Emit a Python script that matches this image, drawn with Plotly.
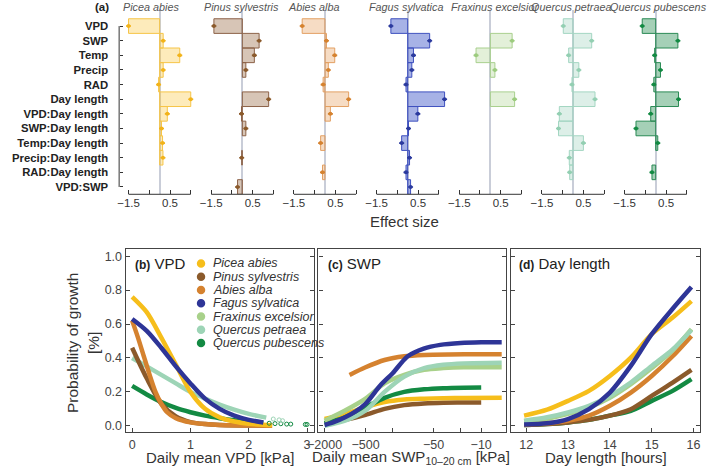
import plotly.graph_objects as go

W, H = 709, 476

# ---------------- data ----------------
species = ["Picea abies", "Pinus sylvestris", "Abies alba", "Fagus sylvatica",
           "Fraxinus excelsior", "Quercus petraea", "Quercus pubescens"]
predictors = ["VPD", "SWP", "Temp", "Precip", "RAD", "Day length", "VPD:Day length",
              "SWP:Day length", "Temp:Day length", "Precip:Day length", "RAD:Day length", "VPD:SWP"]

eff_picea = [-1.5, 0.17, 0.97, 0.17, -0.05, 1.5, 0.37, 0.09, 0.14, 0.16, None, None]
eff_pinus = [-1.37, 0.81, 0.58, 0.17, None, 1.27, -0.04, 0.17, None, -0.03, None, -0.23]
eff_abies = [-1.1, 0.07, 0.47, 0.16, -0.09, 1.14, 0.26, None, -0.21, None, -0.12, None]
eff_fagus = [-0.81, 1.06, 0.28, 0.2, -0.08, 1.78, 0.49, 0.04, -0.29, 0.09, -0.08, 0.14]
eff_fraxinus = [None, 1.05, -0.69, 0.22, None, 1.17, None, None, None, None, None, None]
eff_qpetraea = [-0.47, 0.9, -0.21, 0.28, -0.05, 1.06, -0.66, -0.7, 0.5, -0.18, -0.16, None]
eff_qpubescens = [-0.65, 1.07, -0.05, 0.23, -0.09, 1.1, -0.24, -0.95, 0.1, None, -0.18, None]
effect_lists = [eff_picea, eff_pinus, eff_abies, eff_fagus, eff_fraxinus, eff_qpetraea, eff_qpubescens]

effect_ticks = [-1.5, -0.5, 0.5, 1.5]
effect_ticktext = ["\u22121.5", " ", "0.5", " "]

# (b) VPD
vpd_picea_x = [0, 0.25, 0.5, 0.75, 1.0, 1.25, 1.5, 1.75, 2.0, 2.25, 2.4]
vpd_picea_y = [0.76, 0.67, 0.52, 0.36, 0.2, 0.1, 0.05, 0.025, 0.012, 0.006, 0.004]
vpd_pinus_x = [0, 0.25, 0.5, 0.75, 1.0, 1.25, 1.5, 2.0, 2.4]
vpd_pinus_y = [0.46, 0.28, 0.13, 0.055, 0.022, 0.01, 0.005, 0.002, 0.001]
vpd_abies_x = [0, 0.1, 0.2, 0.3, 0.4, 0.5, 0.6, 0.75, 1.0, 1.25, 1.5, 2.0, 2.4]
vpd_abies_y = [0.62, 0.52, 0.41, 0.3, 0.2, 0.13, 0.08, 0.045, 0.02, 0.01, 0.005, 0.002, 0.001]
vpd_fagus_x = [0, 0.25, 0.5, 0.75, 1.0, 1.25, 1.5, 1.75, 2.0, 2.25]
vpd_fagus_y = [0.63, 0.56, 0.46, 0.35, 0.25, 0.16, 0.1, 0.06, 0.035, 0.02]
vpd_qpet_x = [0, 0.25, 0.5, 0.75, 1.0, 1.25, 1.5, 1.75, 2.0, 2.3]
vpd_qpet_y = [0.40, 0.35, 0.30, 0.25, 0.20, 0.16, 0.125, 0.095, 0.07, 0.048]
vpd_qpub_x = [0, 0.25, 0.5, 0.75, 1.0, 1.25, 1.5, 1.75, 2.0, 2.25]
vpd_qpub_y = [0.235, 0.185, 0.14, 0.105, 0.08, 0.06, 0.045, 0.033, 0.025, 0.018]
vpd_qpub_tail_x = [2.35, 2.45, 2.55, 2.65, 2.72, 2.97, 3.0]
vpd_qpub_tail_y = [0.015, 0.013, 0.012, 0.01, 0.01, 0.008, 0.008]
vpd_qpet_tail_x = [2.42, 2.52, 2.58]
vpd_qpet_tail_y = [0.04, 0.035, 0.03]

# (c) SWP [kPa]
swp_picea_x = [-2000, -1000, -500, -263, -135, -69, -36, -18, -5]
swp_picea_y = [0.04, 0.07, 0.11, 0.14, 0.155, 0.16, 0.163, 0.164, 0.165]
swp_pinus_x = [-2000, -1000, -500, -263, -135, -69, -36, -18, -10]
swp_pinus_y = [0.015, 0.035, 0.065, 0.1, 0.122, 0.132, 0.136, 0.137, 0.138]
swp_abies_x = [-860, -500, -263, -135, -69, -30, -10, -5]
swp_abies_y = [0.30, 0.345, 0.388, 0.41, 0.418, 0.421, 0.422, 0.422]
swp_fagus_x = [-2000, -1500, -1000, -700, -500, -300, -200, -120, -70, -40, -20, -10, -5]
swp_fagus_y = [0.005, 0.02, 0.05, 0.085, 0.13, 0.24, 0.31, 0.41, 0.455, 0.477, 0.488, 0.492, 0.493]
swp_fraxinus_x = [-2000, -1000, -500, -263, -135, -69, -36, -18, -5]
swp_fraxinus_y = [0.03, 0.09, 0.16, 0.25, 0.3, 0.33, 0.34, 0.345, 0.345]
swp_qpet_x = [-2000, -1000, -500, -263, -135, -69, -36, -18, -5]
swp_qpet_y = [0.0, 0.03, 0.09, 0.2, 0.29, 0.34, 0.36, 0.368, 0.372]
swp_qpub_x = [-2000, -1000, -500, -263, -135, -69, -36, -18, -10]
swp_qpub_y = [0.015, 0.05, 0.11, 0.165, 0.2, 0.215, 0.222, 0.225, 0.226]

# (d) Day length [hours]
dl_x = [11.95, 12.5, 13, 13.5, 14, 14.5, 15, 15.5, 15.95]
dl_picea_y = [0.06, 0.095, 0.147, 0.206, 0.294, 0.402, 0.54, 0.638, 0.735]
dl_pinus_y = [0.004, 0.01, 0.02, 0.035, 0.06, 0.098, 0.176, 0.255, 0.33]
dl_abies_y = [0.008, 0.015, 0.03, 0.06, 0.118, 0.196, 0.294, 0.41, 0.53]
dl_fagus_y = [0.008, 0.015, 0.04, 0.098, 0.196, 0.353, 0.54, 0.69, 0.818]
dl_fraxinus_y = [0.025, 0.042, 0.07, 0.108, 0.165, 0.245, 0.34, 0.445, 0.57]
dl_qpet_y = [0.03, 0.05, 0.079, 0.118, 0.176, 0.255, 0.353, 0.45, 0.565]
dl_qpub_y = [0.004, 0.01, 0.02, 0.035, 0.06, 0.088, 0.147, 0.206, 0.275]

prob_ticks = [0, 0.2, 0.4, 0.6, 0.8, 1.0]
vpd_ticks = [0, 1, 2, 3]
swp_ticks = [2000, 500, 200, 50, 20, 10]
swp_ticktext = ["\u22122000", "\u2212500", " ", "\u221250", " ", "\u221210"]
dl_ticks = [12, 13, 14, 15, 16]

# ---------------- styles ----------------
main_col = ["#F6BE1B", "#8B5A2B", "#D5822F", "#2E3597", "#A8D18A", "#9DD4B6", "#138A43"]
bar_fill = ["rgba(247,190,30,0.30)", "rgba(140,90,46,0.35)", "rgba(226,140,60,0.30)",
            "rgba(60,85,200,0.45)", "rgba(168,209,138,0.32)", "rgba(150,205,185,0.32)",
            "rgba(30,138,74,0.40)"]
bar_line = ["#F6C548", "#8C6248", "#E3A063", "#3F51BF", "#A9D08E", "#A3D6C2", "#2A8A55"]
pt_col = ["#F2B31A", "#8B5A2B", "#D5822F", "#2B3A9E", "#9CCB7E", "#93CFB2", "#138A43"]

FONT = "Arial, Liberation Sans, sans-serif"
fig = go.Figure()

def px(x):
    return x / W

def py(y):
    return 1 - y / H

# ---------------- panel (a) ----------------
zero0, zstep, scale = 151.2, 84.1, 21.1
xr = [-1.75, 1.95]
rows = list(range(len(predictors)))
layout_axes = {}
shapes = []
annotations = []
a_top, a_bot = 10, 194.7
for i, vals in enumerate(effect_lists):
    xa = "x" if i == 0 else f"x{i+1}"
    xname = "xaxis" if i == 0 else f"xaxis{i+1}"
    fig.add_trace(go.Bar(x=vals, y=rows, orientation="h", width=1,
                         marker=dict(color=bar_fill[i], line=dict(color=bar_line[i], width=1)),
                         xaxis=xa, yaxis="y", showlegend=False, hoverinfo="skip"))
    fig.add_trace(go.Scatter(x=vals, y=rows, mode="markers",
                             marker=dict(size=4, color=pt_col[i]),
                             error_x=dict(type="constant", value=0.12, thickness=1.6, width=0, color=pt_col[i]),
                             xaxis=xa, yaxis="y", showlegend=False, hoverinfo="skip"))
    z = zero0 + zstep * i
    layout_axes[xname] = dict(
        domain=[px(z + xr[0] * scale), px(z + xr[1] * scale)], range=xr, anchor="y",
        tickvals=effect_ticks, ticktext=effect_ticktext, ticks="inside", ticklen=4,
        tickcolor="#333", tickwidth=1, showgrid=False, showline=False,
        zeroline=True, zerolinecolor="#C9CDD8", zerolinewidth=1.5,
        tickfont=dict(size=11.5, color="#333", family=FONT), fixedrange=True)
    shapes.append(dict(type="line", xref=xa, yref="paper", x0=-1.5, x1=1.5,
                       y0=py(a_bot), y1=py(a_bot), line=dict(color="#333", width=1)))

layout_axes["yaxis"] = dict(
    domain=[py(a_bot), py(a_top)], range=[11.5, -1.1], anchor="free", position=px(110),
    tickvals=rows, ticktext=predictors, ticks="inside", ticklen=3, tickcolor="#333",
    showgrid=False, zeroline=False, showline=False, ticklabelstandoff=11,
    tickfont=dict(size=11.3, color="#222", family=FONT, weight="bold"), fixedrange=True)
shapes.append(dict(type="line", xref="paper", yref="y", x0=px(110), x1=px(110), y0=0, y1=11,
                   line=dict(color="#333", width=1)))

title_x = [142.5, 234.5, 308, 402.3, 492, 570, 659]
for i, name in enumerate(species):
    annotations.append(dict(text=f"<i>{name}</i>", x=px(title_x[i]), y=py(7), xref="paper", yref="paper",
                            showarrow=False, xanchor="center", yanchor="middle",
                            font=dict(size=10.8, color="#555", family=FONT)))
annotations.append(dict(text="<b>(a)</b>", x=px(93), y=py(7), xref="paper", yref="paper",
                        showarrow=False, xanchor="center", yanchor="middle",
                        font=dict(size=11.5, color="#222", family=FONT)))
annotations.append(dict(text="Effect size", x=px(400), y=py(222), xref="paper", yref="paper",
                        showarrow=False, xanchor="center", yanchor="middle",
                        font=dict(size=15, color="#333", family=FONT)))

# ---------------- bottom panels ----------------
b_top, b_bot = 250, 433.3
yr = [-(b_bot - 426.7) / 170, (426.7 - b_top) / 170]
frame = dict(showline=True, linecolor="#444", linewidth=1.3, ticks="inside", ticklen=4,
             tickcolor="#444", showgrid=False, zeroline=False, fixedrange=True,
             tickfont=dict(size=12.5, color="#444", family=FONT))

layout_axes["xaxis8"] = dict(domain=[px(116.7), px(308.3)], range=[-0.11, 3.12], anchor="y2",
                             tickvals=vpd_ticks, mirror=True, **frame)
layout_axes["xaxis9"] = dict(domain=[px(312.7), px(503.3)], type="log", range=[3.392, 0.639],
                             anchor="y3", tickvals=swp_ticks, ticktext=swp_ticktext, mirror=True, **frame)
layout_axes["xaxis10"] = dict(domain=[px(508.3), px(700.7)], range=[11.63, 16.15], anchor="y4",
                              tickvals=dl_ticks, mirror=True, **frame)
for k, xa in zip([2, 3, 4], ["x8", "x9", "x10"]):
    layout_axes[f"yaxis{k}"] = dict(domain=[py(b_bot), py(b_top)], range=yr, anchor=xa,
                                    tickvals=prob_ticks, tickformat=".1f", mirror="ticks",
                                    showticklabels=(k == 2), **frame)

LW = 4.5
def curve(x, y, c, xa, ya):
    fig.add_trace(go.Scatter(x=x, y=y, mode="lines", line=dict(color=c, width=LW, shape="spline", smoothing=0.8),
                             xaxis=xa, yaxis=ya, showlegend=False, hoverinfo="skip"))

def tail(x, y, c, xa, ya):
    fig.add_trace(go.Scatter(x=x, y=y, mode="markers", marker=dict(symbol="circle-open", size=4, color=c),
                             xaxis=xa, yaxis=ya, showlegend=False, hoverinfo="skip"))

# (b)
curve(vpd_qpub_x, vpd_qpub_y, main_col[6], "x8", "y2")
curve(vpd_qpet_x, vpd_qpet_y, main_col[5], "x8", "y2")
curve(vpd_pinus_x, vpd_pinus_y, main_col[1], "x8", "y2")
curve(vpd_abies_x, vpd_abies_y, main_col[2], "x8", "y2")
curve(vpd_picea_x, vpd_picea_y, main_col[0], "x8", "y2")
curve(vpd_fagus_x, vpd_fagus_y, main_col[3], "x8", "y2")
tail(vpd_qpub_tail_x, vpd_qpub_tail_y, main_col[6], "x8", "y2")
tail(vpd_qpet_tail_x, vpd_qpet_tail_y, main_col[5], "x8", "y2")

# (c)
neg = lambda v: [-s for s in v]
curve(neg(swp_pinus_x), swp_pinus_y, main_col[1], "x9", "y3")
curve(neg(swp_picea_x), swp_picea_y, main_col[0], "x9", "y3")
curve(neg(swp_qpub_x), swp_qpub_y, main_col[6], "x9", "y3")
curve(neg(swp_fraxinus_x), swp_fraxinus_y, main_col[4], "x9", "y3")
curve(neg(swp_qpet_x), swp_qpet_y, main_col[5], "x9", "y3")
curve(neg(swp_abies_x), swp_abies_y, main_col[2], "x9", "y3")
curve(neg(swp_fagus_x), swp_fagus_y, main_col[3], "x9", "y3")

# (d)
curve(dl_x, dl_qpub_y, main_col[6], "x10", "y4")
curve(dl_x, dl_pinus_y, main_col[1], "x10", "y4")
curve(dl_x, dl_abies_y, main_col[2], "x10", "y4")
curve(dl_x, dl_fraxinus_y, main_col[4], "x10", "y4")
curve(dl_x, dl_qpet_y, main_col[5], "x10", "y4")
curve(dl_x, dl_picea_y, main_col[0], "x10", "y4")
curve(dl_x, dl_fagus_y, main_col[3], "x10", "y4")

# panel labels
for (lab, word, x0) in [("(b)", "VPD", 124), ("(c)", "SWP", 320), ("(d)", "Day length", 515)]:
    annotations.append(dict(text=f"<span style='font-size:12px'><b>{lab}</b></span> {word}",
                            x=px(x0), y=py(264), xref="paper", yref="paper", showarrow=False,
                            xanchor="left", yanchor="middle", font=dict(size=15, color="#222", family=FONT)))

# legend (manual, rows tighter than plotly's legend allows)
for i, name in enumerate(species):
    yc = 264 + 13.3 * i
    shapes.append(dict(type="circle", xref="paper", yref="paper",
                       x0=px(193.3 - 4.3), x1=px(193.3 + 4.3), y0=py(yc + 4.3), y1=py(yc - 4.3),
                       fillcolor=main_col[i], line=dict(width=0)))
    annotations.append(dict(text=f"<i>{name}</i>", x=px(203), y=py(yc), xref="paper", yref="paper",
                            showarrow=False, xanchor="left", yanchor="middle",
                            font=dict(size=12.5, color="#333", family=FONT)))

# axis titles
annotations.append(dict(text="Probability of growth<br>[%]", x=px(73), y=py(344), xref="paper", yref="paper",
                        showarrow=False, textangle=-90, xanchor="center", yanchor="middle",
                        font=dict(size=15.5, color="#333", family=FONT)))
for txt, xc in [("Daily mean VPD [kPa]", 212.5),
                ("Daily mean SWP<sub>10\u201320 cm</sub> [kPa]", 406.7),
                ("Day length [hours]", 605)]:
    annotations.append(dict(text=txt, x=px(xc), y=py(458.5), xref="paper", yref="paper", showarrow=False,
                            xanchor="center", yanchor="middle", font=dict(size=15, color="#333", family=FONT)))

fig.update_layout(width=W, height=H, margin=dict(l=0, r=0, t=0, b=0),
                  paper_bgcolor="white", plot_bgcolor="white", barmode="overlay",
                  showlegend=False, shapes=shapes, annotations=annotations,
                  font=dict(family=FONT), **layout_axes)

fig.write_html("out.html", config={"displayModeBar": False},
               post_script="document.body.style.margin='0';document.body.style.padding='0';")
